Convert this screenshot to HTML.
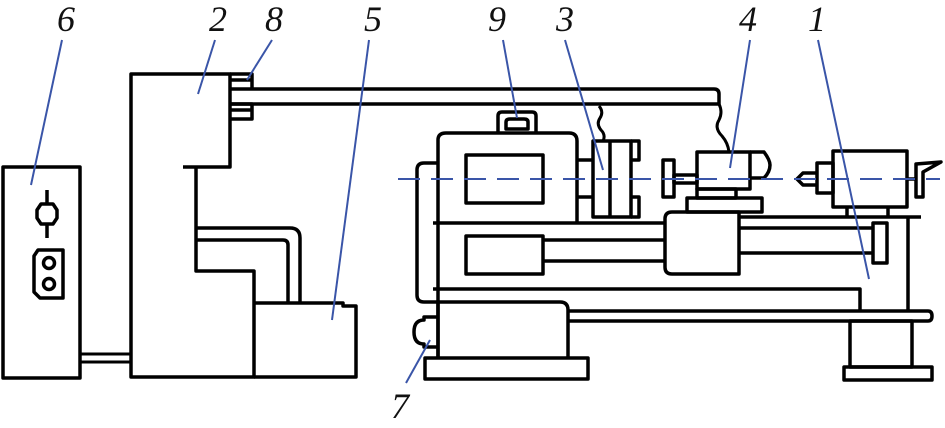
<!DOCTYPE html>
<html><head><style>html,body{margin:0;padding:0;background:#fff;}svg{display:block}</style></head>
<body>
<svg width="945" height="428" viewBox="0 0 945 428" xmlns="http://www.w3.org/2000/svg">
<g fill="none" stroke="#000" stroke-width="3.5" stroke-linejoin="round">
<!-- box 6 -->
<rect x="3" y="167" width="77" height="211"/>
<line x1="47" y1="190" x2="47" y2="204"/><line x1="47" y1="224" x2="47" y2="238"/>
<polygon points="41,204 53,204 57,210 57,218 53,224 41,224 37,218 37,210"/>
<path d="M38,250 H63 V298 H40 L34,292 V256 Z"/>
<circle cx="49" cy="263" r="5.5"/><circle cx="49" cy="284" r="5.5"/>
<line x1="80" y1="354" x2="131" y2="354" stroke-width="3"/><line x1="80" y1="362" x2="131" y2="362" stroke-width="3"/>
<!-- box 2 -->
<path d="M183,167 H230 V74 H131 V377 H254 V271 H196 V167"/>
<path d="M254,303 H343 V306 H356 V377 H254"/>
<path d="M196,228 H290 Q300,228 300,238 V303"/>
<path d="M196,240 H283 Q288,240 288,245 V303"/>
<!-- stubs -->
<path d="M230,74 H252 V89 M230,80 H252"/>
<path d="M230,104 H252 V119 H230 M230,110 H252"/>
<!-- bar -->
<path d="M230,89 H714 Q719,89 719,94 V104 H230"/>
<!-- wires -->
<path d="M599,106 Q604,112 600,118 Q596,124 601,130 Q606,135 603,141" stroke-width="3"/>
<path d="M719,104 Q723,112 719,120 Q714,128 722,136 Q728,143 729,152" stroke-width="3"/>
<!-- headstock -->
<path d="M438,358 V140 Q438,133 446,133 H569 Q577,133 577,141 V222"/>
<rect x="466" y="155" width="77" height="48"/>
<path d="M498,133 V116 Q498,112 502,112 H532 Q536,112 536,116 V133"/>
<path d="M506,129 V122 Q506,119 510,119 H524 Q528,119 528,122 V129 Z"/>
<line x1="577" y1="160" x2="593" y2="160"/><line x1="577" y1="197" x2="593" y2="197"/>
<rect x="593" y="141" width="38" height="76"/>
<line x1="610" y1="141" x2="610" y2="217"/>
<path d="M631,141 H639 V160 H631 M631,197 H639 V217 H631"/>
<!-- left loop -->
<path d="M438,163 H424 Q417,163 417,170 V295 Q417,302 424,302 H438"/>
<!-- bed -->
<line x1="433" y1="223" x2="665" y2="223"/>
<line x1="739" y1="217" x2="921" y2="217"/>
<line x1="908" y1="217" x2="908" y2="310"/>
<rect x="466" y="236" width="77" height="38"/>
<line x1="543" y1="240" x2="665" y2="240"/><line x1="543" y1="261" x2="665" y2="261"/>
<line x1="739" y1="228" x2="873" y2="228"/><line x1="739" y1="253" x2="873" y2="253"/>
<rect x="873" y="223" width="14" height="40"/>
<path d="M433,289 H860 V310"/>
<!-- carriage -->
<path d="M672,212 H739 V274 H672 Q665,274 665,267 V219 Q665,212 672,212 Z"/>
<rect x="687" y="198" width="75" height="14"/>
<rect x="697" y="189" width="39" height="9"/>
<rect x="663" y="160" width="11" height="37"/>
<rect x="674" y="175" width="23" height="8"/>
<rect x="697" y="152" width="53" height="37"/>
<path d="M750,152 H764 Q770,160 770,165 Q770,172 764,178 H750"/>
<!-- base -->
<path d="M438,358 V302 H560 Q568,302 568,310 V358"/>
<path d="M568,311 H928 Q932,311 932,316 Q932,321 928,321 H568"/>
<rect x="425" y="358" width="163" height="21"/>
<path d="M438,317 H424 V320 Q414,320 414,332 Q414,344 424,344 V347 H438"/>
<rect x="850" y="321" width="62" height="46"/>
<rect x="844" y="367" width="88" height="13"/>
<!-- tailstock -->
<rect x="833" y="151" width="74" height="56"/>
<rect x="817" y="163" width="16" height="30"/>
<path d="M817,173 H803 L797,179 L803,185 H817"/>
<line x1="847" y1="207" x2="847" y2="217"/><line x1="888" y1="207" x2="888" y2="217"/>
<line x1="907" y1="179" x2="916" y2="179"/>
<path d="M916,197 V164 L941,162 L923,172 V197 Z"/>
</g>
<!-- centerline -->
<line x1="398" y1="179" x2="940" y2="179" stroke="#3a55a8" stroke-width="2" stroke-dasharray="22,11"/>
<!-- leaders -->
<g stroke="#3a55a8" stroke-width="2">
<line x1="62" y1="40" x2="31" y2="185"/>
<line x1="215" y1="40" x2="198" y2="94"/>
<line x1="272" y1="40" x2="247" y2="80"/>
<line x1="369" y1="40" x2="332" y2="320"/>
<line x1="503" y1="40" x2="517" y2="118"/>
<line x1="565" y1="40" x2="603" y2="170"/>
<line x1="750" y1="40" x2="730" y2="168"/>
<line x1="818" y1="40" x2="869" y2="279"/>
<line x1="406" y1="383" x2="430" y2="340"/>
</g>
<g font-family="'Liberation Serif', serif" font-style="italic" font-size="36" fill="#111">
<text x="57" y="31">6</text>
<text x="209" y="31">2</text>
<text x="265" y="31">8</text>
<text x="364" y="31">5</text>
<text x="488" y="31">9</text>
<text x="556" y="31">3</text>
<text x="739" y="31">4</text>
<text x="808" y="31">1</text>
<text x="391" y="418">7</text>
</g>
</svg>
</body></html>
